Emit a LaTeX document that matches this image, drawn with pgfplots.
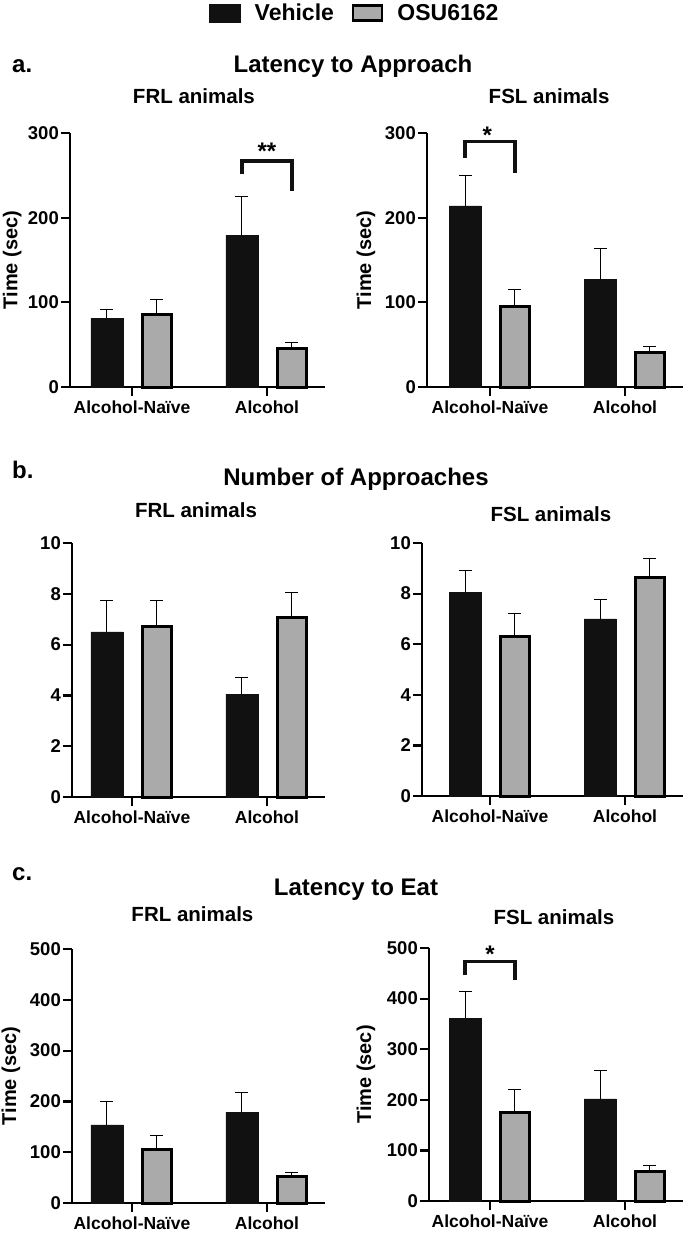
\documentclass[border=0pt]{standalone}
\usepackage{fontspec}
\setmainfont{Liberation Sans}
\usepackage{pgfplots}
\usepackage{pgfplotstable}
\pgfplotsset{compat=1.18}
\definecolor{vehc}{HTML}{111111}
\definecolor{osuc}{HTML}{AAAAAA}
\newcommand{\fs}[1]{\fontsize{#1}{#1}\selectfont\bfseries}

% xv / xo: bar positions of Vehicle / OSU6162 (group centre 0 or 1, shifted by 25pt = 0.185 units)
\pgfplotstableread{
xv xo veh vehE osu osuE
-0.185 0.185 81 10 86 17
0.815 1.185 179 46 45 8
}\dataA
\pgfplotstableread{
xv xo veh vehE osu osuE
-0.185 0.185 214 36 95 20
0.815 1.185 127 37 41 7
}\dataAA
\pgfplotstableread{
xv xo veh vehE osu osuE
-0.185 0.185 6.5 1.25 6.7 1.05
0.815 1.185 4.05 0.65 7.05 1.0
}\dataB
\pgfplotstableread{
xv xo veh vehE osu osuE
-0.185 0.185 8.05 0.85 6.3 0.9
0.815 1.185 7.0 0.78 8.65 0.75
}\dataBB
\pgfplotstableread{
xv xo veh vehE osu osuE
-0.185 0.185 154 46 106 26
0.815 1.185 179 38 53 8
}\dataC
\pgfplotstableread{
xv xo veh vehE osu osuE
-0.185 0.185 361 53 174 47
0.815 1.185 202 56 59 12
}\dataCC

\pgfplotsset{
  panel/.style={
    scale only axis,
    axis x line=bottom, axis y line=left,
    axis line style={line width=2.2pt, -, black},
    xtick align=outside, ytick align=outside,
    xtick pos=bottom, ytick pos=left,
    major tick length=9pt,
    every tick/.style={draw=black, line width=2.2pt},
    xtick={0,1}, xticklabels={Alcohol-Naïve, Alcohol}, xmax=1.43, ymin=0,
    minor tick num=0,
    x tick label style={font=\fs{17.5}, inner sep=5pt},
    y tick label style={font=\fs{18.5}, inner sep=2pt},
    /pgf/number format/assume math mode=true,
    ylabel style={font=\fs{20}, anchor=center},
    title style={font=\fs{20.5}, anchor=base},
    clip=false,
  },
  vehbar/.style={ybar, bar width=32pt, bar shift=0pt, fill=vehc, draw=vehc, line width=0.5pt,
    legend image code/.code={\draw[fill=vehc,draw=vehc,line width=0.5pt] (0pt,-9pt) rectangle (31pt,9pt);},
    error bars/.cd, y dir=plus, y explicit,
    error bar style={line width=1pt, black},
    error mark options={rotate=90, mark size=6.5pt, line width=1pt, black}},
  osubar/.style={ybar, bar width=29pt, bar shift=0pt, fill=osuc, draw=black, line width=3pt,
    legend image code/.code={\draw[fill=osuc,draw=black,line width=2.5pt] (0pt,-7.5pt) rectangle (29pt,7.5pt);},
    error bars/.cd, y dir=plus, y explicit,
    error bar style={line width=1pt, black},
    error mark options={rotate=90, mark size=6.5pt, line width=1pt, black}},
}

\begin{document}
\begin{tikzpicture}
\path[use as bounding box] (0,0) rectangle (685pt,-1234pt);

% section titles
\node[anchor=base west, font=\fs{24}, inner sep=0pt] at (12pt,-72pt) {a.};
\node[anchor=base, font=\fs{24}, inner sep=0pt] at (353pt,-72pt) {Latency to Approach};
\node[anchor=base west, font=\fs{24}, inner sep=0pt] at (12pt,-478pt) {b.};
\node[anchor=base, font=\fs{24}, inner sep=0pt] at (356pt,-485pt) {Number of Approaches};
\node[anchor=base west, font=\fs{24}, inner sep=0pt] at (12pt,-880pt) {c.};
\node[anchor=base, font=\fs{24}, inner sep=0pt] at (356pt,-895pt) {Latency to Eat};

% ---- a, FRL
\begin{axis}[panel, at={(70pt,-387pt)}, anchor=south west, width=255pt, height=254pt,
  xmin=-0.459, ymax=300, ytick={0,100,200,300},
  ylabel={Time (sec)}, ylabel style={at={(axis description cs:-0.227,0.5)}},
  title={FRL animals}, title style={at={(axis description cs:0.486,1.0906)}},
  legend style={at={(axis description cs:0.545,1.516)}, anchor=north west, draw=none, fill=none,
    legend columns=2, font=\fs{23}, inner sep=0pt,
    /tikz/every odd column/.append style={column sep=12pt},
    /tikz/every even column/.append style={column sep=16pt}},
  legend cell align=left]
\addplot[vehbar] table[x=xv, y=veh, y error=vehE] {\dataA};
\addplot[osubar] table[x=xo, y=osu, y error=osuE] {\dataA};
\legend{Vehicle, OSU6162}
\draw[line width=3.2pt, vehc] (axis cs:0.815,251) -- (axis cs:0.815,267) -- (axis cs:1.185,267) -- (axis cs:1.185,232);
\node[font=\fs{24}, anchor=base, inner sep=0pt] at (axis cs:1,269) {**};
\end{axis}

% ---- a, FSL
\begin{axis}[panel, at={(427pt,-387pt)}, anchor=south west, width=256pt, height=254pt,
  xmin=-0.467, ymax=300, ytick={0,100,200,300},
  ylabel={Time (sec)}, ylabel style={at={(axis description cs:-0.238,0.5)}},
  title={FSL animals}, title style={at={(axis description cs:0.477,1.0906)}}]
\addplot[vehbar] table[x=xv, y=veh, y error=vehE] {\dataAA};
\addplot[osubar] table[x=xo, y=osu, y error=osuE] {\dataAA};
\draw[line width=3.2pt, vehc] (axis cs:-0.185,271) -- (axis cs:-0.185,290) -- (axis cs:0.185,290) -- (axis cs:0.185,253);
\node[font=\fs{24}, anchor=base, inner sep=0pt] at (axis cs:-0.02,288) {*};
\end{axis}

% ---- b, FRL
\begin{axis}[panel, at={(72pt,-797pt)}, anchor=south west, width=253pt, height=254pt,
  xmin=-0.444, ymax=10, ytick={0,2,4,6,8,10},
  title={FRL animals}, title style={at={(axis description cs:0.49,1.075)}}]
\addplot[vehbar] table[x=xv, y=veh, y error=vehE] {\dataB};
\addplot[osubar] table[x=xo, y=osu, y error=osuE] {\dataB};
\end{axis}

% ---- b, FSL
\begin{axis}[panel, at={(422pt,-796pt)}, anchor=south west, width=261pt, height=253pt,
  xmin=-0.504, ymax=10, ytick={0,2,4,6,8,10},
  title={FSL animals}, title style={at={(axis description cs:0.494,1.063)}}]
\addplot[vehbar] table[x=xv, y=veh, y error=vehE] {\dataBB};
\addplot[osubar] table[x=xo, y=osu, y error=osuE] {\dataBB};
\end{axis}

% ---- c, FRL
\begin{axis}[panel, at={(72pt,-1203pt)}, anchor=south west, width=253pt, height=254pt,
  xmin=-0.444, ymax=500, ytick={0,100,200,300,400,500},
  ylabel={Time (sec)}, ylabel style={at={(axis description cs:-0.241,0.5)}},
  title={FRL animals}, title style={at={(axis description cs:0.476,1.083)}}]
\addplot[vehbar] table[x=xv, y=veh, y error=vehE] {\dataC};
\addplot[osubar] table[x=xo, y=osu, y error=osuE] {\dataC};
\end{axis}

% ---- c, FSL
\begin{axis}[panel, at={(429pt,-1201pt)}, anchor=south west, width=254pt, height=253pt,
  xmin=-0.452, ymax=500, ytick={0,100,200,300,400,500},
  ylabel={Time (sec)}, ylabel style={at={(axis description cs:-0.248,0.5)}},
  title={FSL animals}, title style={at={(axis description cs:0.492,1.071)}}]
\addplot[vehbar] table[x=xv, y=veh, y error=vehE] {\dataCC};
\addplot[osubar] table[x=xo, y=osu, y error=osuE] {\dataCC};
\draw[line width=3.2pt, vehc] (axis cs:-0.185,446) -- (axis cs:-0.185,473) -- (axis cs:0.185,473) -- (axis cs:0.185,437);
\node[font=\fs{24}, anchor=base, inner sep=0pt] at (axis cs:0,472) {*};
\end{axis}
\end{tikzpicture}
\end{document}
